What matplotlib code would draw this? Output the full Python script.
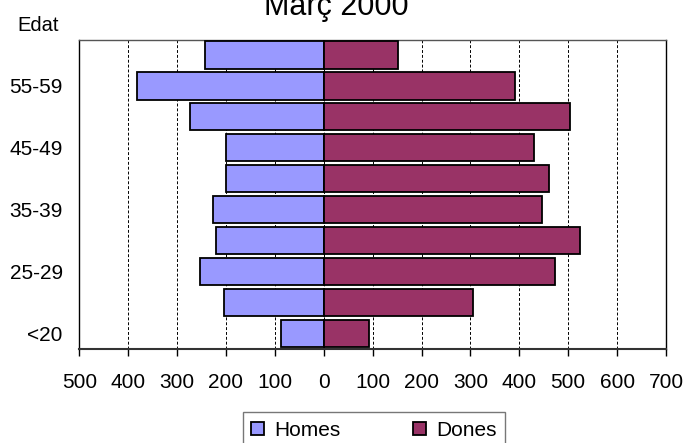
import numpy as np
import matplotlib.pyplot as plt

plt.rcParams['font.family'] = ['Liberation Sans', 'DejaVu Sans']

# Dades (de baix a dalt)
edats = ['<20', '20-24', '25-29', '30-34', '35-39', '40-44', '45-49', '50-54', '55-59', '60+']
homes = [87, 205, 254, 221, 226, 200, 200, 274, 381, 242]
dones = [93, 306, 472, 524, 446, 461, 429, 504, 392, 151]
ticks_x = list(range(-500, 701, 100))

fig = plt.figure(figsize=(6.87, 4.43), dpi=100)
ax = fig.add_axes([79.3 / 687, 1 - 349 / 443, (666 - 79.3) / 687, (349 - 39.5) / 443])

y = np.arange(len(edats))
ax.barh(y, -np.array(homes), height=0.88, color='#9999FF', edgecolor='black', linewidth=1.3, label='Homes', zorder=3)
ax.barh(y, dones, height=0.88, color='#993366', edgecolor='black', linewidth=1.3, label='Dones', zorder=3)

ax.set_xlim(-500, 700)
ax.set_ylim(-0.5, len(edats) - 0.5)
ax.set_xticks(ticks_x)
ax.set_xticklabels([str(abs(t)) for t in ticks_x], fontsize=15)
ax.set_yticks(y[::2])
ax.set_yticklabels(edats[::2], fontsize=15)
ax.tick_params(axis='y', length=0, pad=12)
ax.tick_params(axis='x', length=5, width=1, pad=12, direction='out')

# graella vertical discontinua
for t in ticks_x[1:-1]:
    ax.axvline(t, color='black', linestyle=(0, (3, 2)), linewidth=0.7, zorder=1)

for s in ax.spines.values():
    s.set_color('black')
    s.set_linewidth(1)
ax.spines['bottom'].set_color('#333333')
ax.spines['bottom'].set_linewidth(1.5)
ax.spines['top'].set_color('#555555')

fig.text(336.5 / 687, 1 - 15 / 443, 'Març 2000', ha='center', va='baseline', fontsize=22)
fig.text(17 / 687, 1 - 31 / 443, 'Edat', ha='left', va='baseline', fontsize=14.5)

leg = fig.legend(loc='upper center', bbox_to_anchor=(373.8 / 687, 1 - 412.3 / 443), ncol=2,
                 fontsize=15, frameon=True, fancybox=False, edgecolor='#555555',
                 handlelength=0.6, handleheight=0.6, columnspacing=3.5, handletextpad=0.5,
                 borderpad=0.4, borderaxespad=0)
leg.get_frame().set_linewidth(1)

fig.savefig('out.png', dpi=100)
